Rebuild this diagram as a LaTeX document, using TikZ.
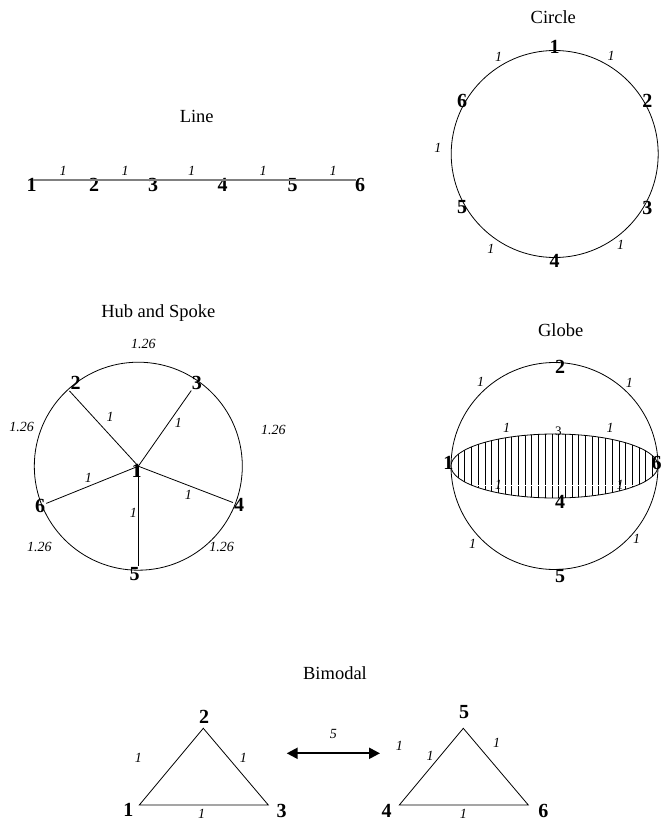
\documentclass[tikz,border=0pt]{standalone}
\usepackage{fontspec}
\setmainfont{Liberation Serif}
\usetikzlibrary{positioning,arrows.meta,calc}

\begin{document}
\begin{tikzpicture}[x=1pt, y=1pt,
  ttl/.style={font=\fontsize{18.5}{22}\selectfont, inner sep=0pt},
  vtx/.style={font=\fontsize{20}{24}\selectfont\bfseries, inner sep=1pt},
  wt/.style={font=\fontsize{14}{16}\selectfont\itshape, inner sep=0pt},
  sml/.style={font=\fontsize{13}{15}\selectfont, inner sep=0pt},
  ring/.style={line width=0.8pt}]
  \useasboundingbox (0,0) rectangle (661,-821);

  % line
  \node[ttl] (tline) at (196.7,-116.7) {Line};
  \foreach \n/\x in {1/31.7,2/94,3/153,4/222.7,5/292.7,6/360}
    \node[vtx] (l\n) at (\x,-185) {\n};
  \draw[gray, line width=1.4pt] ([shift={(1.3,5)}]l1.center) -- ([shift={(-4,5)}]l6.center);
  \foreach \x [count=\i] in {63,125,191.7,263,333}
    \node[wt] (lw\i) at (\x,-171) {1};

  % circle
  \node[ttl] (tcirc) at (553.3,-16.7) {Circle};
  \coordinate (cc) at (554.7,-154);
  \draw[ring] (cc) circle[radius=103.5];
  \foreach \n/\a in {1/90,2/30,3/-30,4/-90,5/210,6/150}
    \node[vtx] (c\n) at ($(cc)+(\a:107)$) {\n};
  \foreach \a/\r [count=\i] in {60/113,120/112,177/117,236/114,-54/112}
    \node[wt] (cw\i) at ($(cc)+(\a:\r)$) {1};

  % hub and spoke
  \node[ttl] (thub) at (158.3,-313.3) {Hub and Spoke};
  \coordinate (hc) at (138.3,-466.2);
  \draw[ring] (hc) circle[radius=104];
  \node[vtx] (h1) at ($(hc)+(-1.6,-4.5)$) {1};
  \foreach \n/\a/\r in {2/127/104,3/55/102,4/-21/108,5/-92/108,6/202/106}
    \node[vtx] (h\n) at ($(hc)+(\a:\r)$) {\n};
  \draw[ring] (hc) -- (h2.south west);
  \draw[ring] (hc) -- (h3);
  \draw[ring] (hc) -- (h4);
  \draw[ring] (hc) -- (h5.north -| hc);
  \draw[ring] (hc) -- (h6);
  \node[wt] (hw1) at (110,-416.7) {1};
  \node[wt] (hw2) at (178.3,-422.7) {1};
  \node[wt] (hw3) at (188.3,-495) {1};
  \node[wt] (hw4) at (133.3,-513.3) {1};
  \node[wt] (hw5) at (88.3,-478.3) {1};
  \node[wt] (hr1) at (143.3,-344.3) {1.26};
  \node[wt] (hr2) at (273.3,-430) {1.26};
  \node[wt] (hr3) at (221.7,-547.3) {1.26};
  \node[wt] (hr4) at (39.3,-547.3) {1.26};
  \node[wt] (hr5) at (21.7,-426.7) {1.26};

  % globe
  \node[ttl] (tglobe) at (560.7,-330) {Globe};
  \coordinate (gc) at (554.5,-466);
  \begin{scope}
    \clip (gc) ellipse[x radius=103.5, y radius=32];
    \foreach \i in {-15,...,15}
      \draw[line width=0.6pt] ($(gc)+(\i*6.7+4,-40)$) -- ++(0,80);
    \draw[white, line width=0.9pt] ($(gc)+(-104,-19)$) -- ++(208,0);
  \end{scope}
  \draw[ring] (gc) ellipse[x radius=103.5, y radius=32];
  \draw[ring] (gc) circle[radius=103.5];
  \node[vtx] (g1) at (448.3,-463.3) {1};
  \node[vtx] (g2) at (560,-366.7) {2};
  \node[sml] (g3) at (558.3,-431) {3};
  \node[vtx] (g4) at (560,-501.5) {4};
  \node[vtx] (g5) at (560,-576) {5};
  \node[vtx] (g6) at (656.7,-462.7) {6};
  \foreach \x/\y [count=\i] in {480.7/381.7,629.3/382.7,506.7/428.3,610/427.7,498.3/485,620/485,472.7/544,636.7/539.3}
    \node[wt] (gw\i) at (\x,-\y) {1};

  % bimodal
  \node[ttl] (tbim) at (335,-673.3) {Bimodal};
  \coordinate (v1) at (139.3,-805);
  \coordinate (v2) at (203.3,-728.3);
  \coordinate (v3) at (268.3,-805);
  \coordinate (v4) at (399.3,-805);
  \coordinate (v5) at (463.3,-728.3);
  \coordinate (v6) at (528.3,-805);
  \draw[ring] (v1) -- (v2) -- (v3) -- cycle;
  \draw[ring] (v4) -- (v5) -- (v6) -- cycle;
  \node[vtx] (b1) at (128.3,-810) {1};
  \node[vtx] (b2) at (204,-716.7) {2};
  \node[vtx] (b3) at (281.7,-810.7) {3};
  \node[vtx] (b4) at (386.7,-810.7) {4};
  \node[vtx] (b5) at (464,-711.7) {5};
  \node[vtx] (b6) at (543.3,-810.7) {6};
  \coordinate (al) at (286.7,-753.3);
  \coordinate (ar) at (380,-753.3);
  \draw[line width=2.2pt, {Triangle[length=11pt,width=11pt]}-{Triangle[length=11pt,width=11pt]}]
    (al) -- node[wt, above=14pt] (bw0) {5} (ar);
  \foreach \x/\y [count=\i] in {138.3/758.3,243.3/758.3,201.7/813.5,399.3/746,430/756,496.7/743.3,463.3/813.5}
    \node[wt] (bw\i) at (\x,-\y) {1};
\end{tikzpicture}
\end{document}
